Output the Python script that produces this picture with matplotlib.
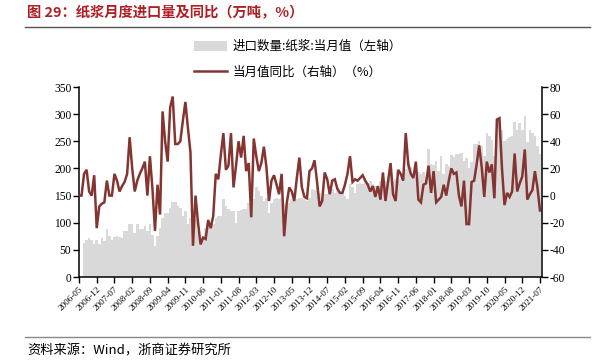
import numpy as np
import matplotlib
matplotlib.use("Agg")
import matplotlib.pyplot as plt
from matplotlib.lines import Line2D
import pandas as pd

plt.rcParams['axes.unicode_minus'] = False

# ---------------- data ----------------
n_months = 183
months = pd.date_range("2006-05-01", periods=n_months, freq="MS").strftime("%Y-%m").tolist()

imports = [np.nan, np.nan, 63, 69, 72, 69, 60, 69, 61, 71,
           66, 88, 75, 69, 73, 75, 73, 71, 84, 84,
           97, 97, 81, 97, 88, 88, 94, 85, 97, 78,
           57, 75, 91, 109, 118, 118, 128, 139, 139, 131,
           128, 112, 122, 97, 109, 112, 106, 84, 72, 75,
           91, 97, 91, 97, 109, 112, 112, 143, 131, 125,
           122, 122, 100, 122, 123, 125, 126, 137, 140, 143,
           165, 158, 149, 140, 146, 118, 137, 143, 146, 143,
           146, 134, 131, 137, 143, 140, 143, 146, 145, 143,
           140, 146, 162, 160, 165, 155, 146, 152, 152, 158,
           162, 155, 158, 152, 152, 149, 143, 171, 165, 155,
           171, 174, 171, 177, 174, 177, 171, 168, 158, 177,
           183, 177, 175, 189, 177, 180, 177, 180, 189, 199,
           211, 202, 190, 183, 193, 190, 194, 185, 236, 208,
           207, 214, 196, 223, 190, 208, 205, 225, 221, 227,
           227, 229, 214, 220, 200, 211, 245, 245, 251, 242,
           223, 265, 260, 252, 223, 285, 288, 270, 251, 254,
           257, 260, 285, 270, 283, 270, 297, 248, 271, 265,
           260, 242, 226]

yoy = [0, 0, 16, 19, 3, 0, 15, -24, -8, -6,
       -5, 11, 0, 0, 16, 11, 3, 7, 10, 16,
       43, 20, 3, 11, 16, 20, 25, 0, 29, 5,
       -26, 8, -14, 62, 40, 25, 65, 73, 38, 38,
       40, 55, 69, 50, 32, -37, 0, -20, -36, -31,
       -32, -18, -24, -15, 16, 12, 30, 46, 19, 22,
       46, 6, 22, 40, 28, 44, 18, 24, -16, 42,
       29, 18, 24, 36, 21, -4, 11, 15, 8, 1,
       16, -30, -6, 6, 3, -4, 13, 28, 6, -1,
       -2, 18, 20, 26, 10, -8, -4, 17, 12, 1,
       11, 12, 5, 2, 2, 8, 16, 29, 10, 12,
       11, 13, 15, 11, 8, 3, 7, -1, 7, -3,
       17, -4, 10, 24, 1, -4, 19, 16, 11, 46,
       23, 16, 13, 25, -3, -5, 8, 9, 22, 2,
       18, -5, -3, -1, 8, 0, 11, 20, 16, 17,
       0, -8, 11, -21, -21, 10, 11, 23, 37, 21,
       -1, 25, 17, 23, -2, 56, 57, 20, -7, 2,
       -1, 3, 31, 3, 9, 14, 34, -3, 1, 4,
       18, 6, -11]

tick_step = 7
bar_label = "进口数量:纸浆:当月值（左轴）"
line_label = "当月值同比（右轴）（%）"
title = "图 29：纸浆月度进口量及同比（万吨，%）"
source = "资料来源：Wind，浙商证券研究所"

# ---------------- figure ----------------
W, H = 595, 360
fig = plt.figure(figsize=(W / 100, H / 100), dpi=100)
cjk = ['Noto Sans CJK SC', 'DejaVu Sans']
serif = ['Liberation Serif', 'DejaVu Serif']

L, R, T, B = 79, 542, 87, 277
ax = fig.add_axes([L / W, 1 - B / H, (R - L) / W, (B - T) / H])
ax2 = ax.twinx()

x = np.arange(n_months)
bars = ax.bar(x, imports, width=1.0, color='#D9D9D9', linewidth=0, label=bar_label)
line, = ax2.plot(x, yoy, color='#843532', lw=1.8, label=line_label, solid_joinstyle='miter')

ax.set_xlim(0, n_months - 1 + 0.8)
ax.set_ylim(0, 350)
ax.set_yticks(np.arange(0, 351, 50))
ax2.set_ylim(-60, 80)
ax2.set_yticks(np.arange(-60, 81, 20))

tick_idx = np.arange(0, n_months, tick_step)
ax.set_xticks(tick_idx)
ax.set_xticklabels([months[i] for i in tick_idx], rotation=45, ha='right',
                   rotation_mode='anchor', fontsize=6.6, family=serif)

for a in (ax, ax2):
    a.spines['top'].set_visible(False)
    for s in a.spines.values():
        s.set_linewidth(1.1)
        s.set_color('black')
    a.tick_params(direction='out', length=4, width=1.0, colors='black')
ax2.spines['left'].set_visible(False)
ax2.spines['bottom'].set_visible(False)
ax.spines['right'].set_visible(False)
ax.tick_params(axis='x', pad=2)
ax.tick_params(axis='y', pad=1.5)
ax2.tick_params(axis='y', pad=1.5)
for lab in ax.get_yticklabels() + ax2.get_yticklabels():
    lab.set_fontfamily(serif)
    lab.set_fontsize(8.3)

# legend
fig.legend(handles=[bars, line], labels=[bar_label, line_label],
           loc='upper left', bbox_to_anchor=(194 / W, 1 - 40 / H),
           frameon=False, borderpad=0, borderaxespad=0,
           handlelength=2.6, handleheight=0.9, handletextpad=0.45,
           labelspacing=1.0, prop={'family': cjk, 'size': 9})

# title & source
fig.text(27 / W, 1 - 13 / H, title, color='#B01E23', fontsize=10.3, fontweight='bold',
         family=cjk, ha='left', va='center')
fig.add_artist(Line2D([25 / W, 590 / W], [1 - 27 / H, 1 - 27 / H], color='#555555', lw=1.0))
fig.add_artist(Line2D([25 / W, 590 / W], [1 - 337 / H, 1 - 337 / H], color='#888888', lw=1.0))
fig.text(27 / W, 1 - 351 / H, source, color='black', fontsize=9.5,
         family=cjk, ha='left', va='center')

fig.savefig("out.png", dpi=100)
